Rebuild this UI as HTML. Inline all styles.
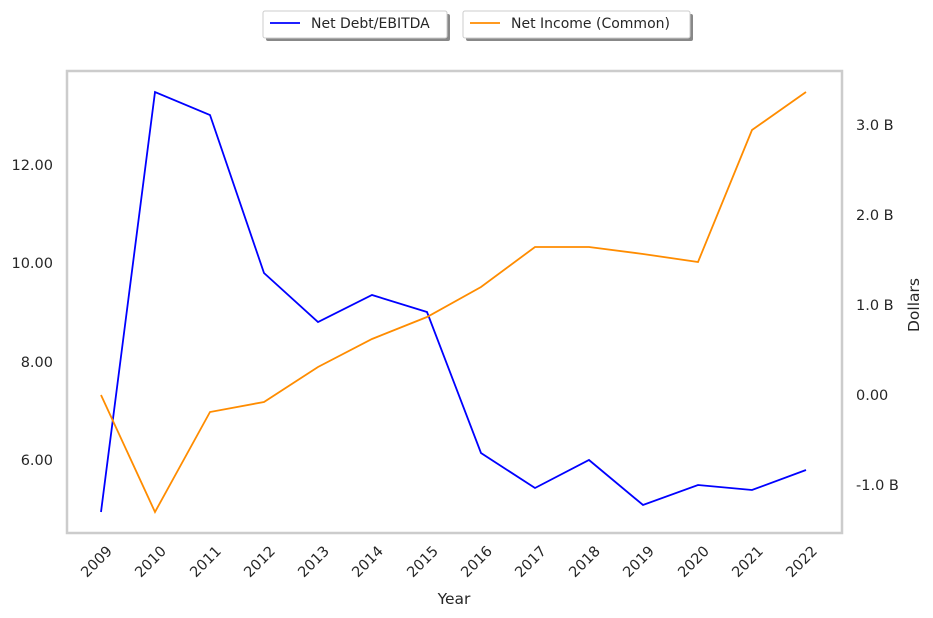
<!DOCTYPE html>
<html><head><style>body{margin:0;background:#fff}svg{display:block}text{font-family:"DejaVu Sans","Liberation Sans",sans-serif;fill:#262626}</style></head><body>
<svg width="933" height="618" xmlns="http://www.w3.org/2000/svg">
<rect x="67" y="71" width="775" height="462" fill="#fff" stroke="#cccccc" stroke-width="2.5"/>
<g font-size="14.5" text-anchor="end">
<text x="53" y="170">12.00</text><text x="53" y="268">10.00</text><text x="53" y="367">8.00</text><text x="53" y="465">6.00</text>
</g>
<g font-size="14.5" text-anchor="start">
<text x="856" y="130">3.0 B</text><text x="856" y="220">2.0 B</text><text x="856" y="310">1.0 B</text><text x="856" y="400">0.00</text><text x="856" y="490">-1.0 B</text>
</g>
<text x="919" y="305" font-size="15.5" text-anchor="middle" transform="rotate(-90 919 305)">Dollars</text>
<text x="454" y="604" font-size="15.5" text-anchor="middle">Year</text>
<g font-size="14.5" text-anchor="end">
<text transform="translate(113 552) rotate(-45)">2009</text>
<text transform="translate(167 552) rotate(-45)">2010</text>
<text transform="translate(222 552) rotate(-45)">2011</text>
<text transform="translate(276 552) rotate(-45)">2012</text>
<text transform="translate(330 552) rotate(-45)">2013</text>
<text transform="translate(384 552) rotate(-45)">2014</text>
<text transform="translate(439 552) rotate(-45)">2015</text>
<text transform="translate(493 552) rotate(-45)">2016</text>
<text transform="translate(547 552) rotate(-45)">2017</text>
<text transform="translate(601 552) rotate(-45)">2018</text>
<text transform="translate(655 552) rotate(-45)">2019</text>
<text transform="translate(710 552) rotate(-45)">2020</text>
<text transform="translate(764 552) rotate(-45)">2021</text>
<text transform="translate(818 552) rotate(-45)">2022</text>
</g>
<polyline fill="none" stroke="#0000ff" stroke-width="1.8" points="101,512 155,92 210,115 264,273 318,322 372,295 427,312 481,453 535,488 589,460 643,505 698,485 752,490 806,470"/>
<polyline fill="none" stroke="#ff8c00" stroke-width="1.8" points="101,395 155,512 210,412 264,402 318,367 372,339 427,317 481,287 535,247 589,247 643,254 698,262 752,130 806,92"/>
<rect x="266" y="14" width="184" height="27" fill="#888" rx="2"/>
<rect x="263" y="11" width="184" height="27" fill="#fff" stroke="#ccc" rx="2"/>
<line x1="270" y1="23" x2="300" y2="23" stroke="#0000ff" stroke-width="1.8"/>
<text x="311" y="28" font-size="14">Net Debt/EBITDA</text>
<rect x="466" y="14" width="227" height="27" fill="#888" rx="2"/>
<rect x="463" y="11" width="227" height="27" fill="#fff" stroke="#ccc" rx="2"/>
<line x1="470" y1="23" x2="500" y2="23" stroke="#ff8c00" stroke-width="1.8"/>
<text x="511" y="28" font-size="14">Net Income (Common)</text>
</svg>
</body></html>
